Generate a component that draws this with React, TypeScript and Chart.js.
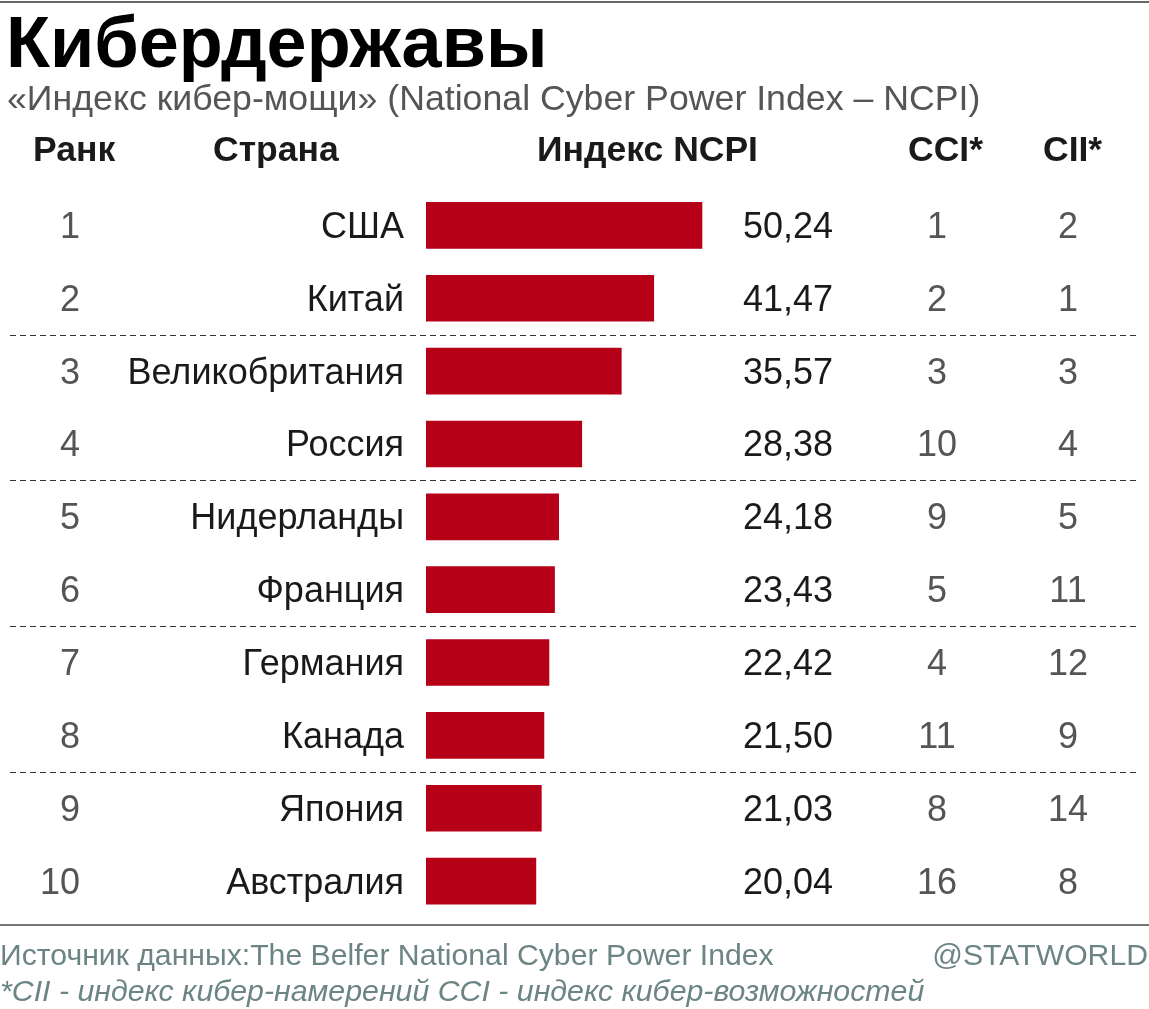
import React, { useEffect, useRef } from "react";
import { Chart, registerables } from "chart.js";

Chart.register(...registerables);

const ranks = ["1", "2", "3", "4", "5", "6", "7", "8", "9", "10"];
const countries = ["США", "Китай", "Великобритания", "Россия", "Нидерланды", "Франция", "Германия", "Канада", "Япония", "Австралия"];
const ncpi = [50.24, 41.47, 35.57, 28.38, 24.18, 23.43, 22.42, 21.5, 21.03, 20.04];
const ncpiLabels = ["50,24", "41,47", "35,57", "28,38", "24,18", "23,43", "22,42", "21,50", "21,03", "20,04"];
const cci = ["1", "2", "3", "10", "9", "5", "4", "11", "8", "16"];
const cii = ["2", "1", "3", "4", "5", "11", "12", "9", "14", "8"];
const headers = ["Ранк", "Страна", "Индекс NCPI", "CCI*", "CII*"];
const title = "Кибердержавы";
const subtitle = "«Индекс кибер-мощи» (National Cyber Power Index – NCPI)";
const source = "Источник данных:The Belfer National Cyber Power Index";
const brand = "@STATWORLD";
const note = "*CII - индекс кибер-намерений CCI - индекс кибер-возможностей";

const W = 1149;
const H = 1009;
const FONT = '"Liberation Sans", Arial, Helvetica, sans-serif';

const overlay = {
  id: "overlay",
  afterDraw(chart: any) {
    const ctx = chart.ctx as CanvasRenderingContext2D;
    const y = chart.scales.y;
    ctx.save();
    // top line
    ctx.fillStyle = "#666";
    ctx.fillRect(0, 1, W, 2);
    // title
    ctx.textBaseline = "alphabetic";
    ctx.textAlign = "left";
    ctx.fillStyle = "#000";
    ctx.font = `bold 72px ${FONT}`;
    ctx.fillText(title, 6, 67);
    ctx.fillStyle = "#555";
    ctx.font = `35.7px ${FONT}`;
    ctx.fillText(subtitle, 7, 110);
    // headers
    ctx.fillStyle = "#1a1a1a";
    ctx.font = `bold 35.5px ${FONT}`;
    ctx.fillText(headers[0], 33, 161);
    ctx.fillText(headers[1], 213, 161);
    ctx.fillText(headers[2], 537, 161);
    ctx.fillText(headers[3], 908, 161);
    ctx.fillText(headers[4], 1043, 161);
    // rows
    ctx.font = `36px ${FONT}`;
    for (let i = 0; i < countries.length; i++) {
      const cy = y.getPixelForValue(i) + 12.5;
      ctx.fillStyle = "#555";
      ctx.textAlign = "right";
      ctx.fillText(ranks[i], 80, cy);
      ctx.fillStyle = "#1a1a1a";
      ctx.fillText(countries[i], 404, cy);
      ctx.textAlign = "left";
      ctx.fillText(ncpiLabels[i], 743, cy);
      ctx.fillStyle = "#555";
      ctx.textAlign = "center";
      ctx.fillText(cci[i], 937, cy);
      ctx.fillText(cii[i], 1068, cy);
    }
    // dashed separators
    ctx.strokeStyle = "#333";
    ctx.lineWidth = 1;
    ctx.setLineDash([6, 4]);
    for (let i = 1; i < countries.length - 1; i += 2) {
      const sy = Math.round((y.getPixelForValue(i) + y.getPixelForValue(i + 1)) / 2) + 0.5;
      ctx.beginPath();
      ctx.moveTo(10, sy);
      ctx.lineTo(1136, sy);
      ctx.stroke();
    }
    ctx.setLineDash([]);
    // bottom line
    ctx.fillStyle = "#777";
    ctx.fillRect(0, 924, W, 2);
    // footer
    ctx.fillStyle = "#6c8484";
    ctx.textAlign = "left";
    ctx.font = `30.2px ${FONT}`;
    ctx.fillText(source, 0, 965);
    ctx.textAlign = "right";
    ctx.fillText(brand, 1148, 965);
    ctx.textAlign = "left";
    ctx.font = `italic 30.3px ${FONT}`;
    ctx.fillText(note, 0, 1001);
    ctx.restore();
  },
};

export default function App() {
  const ref = useRef<HTMLCanvasElement>(null);
  useEffect(() => {
    document.body.style.margin = "0";
    const canvas = ref.current!;
    const chart = new Chart(canvas, {
      type: "bar",
      data: {
        labels: countries,
        datasets: [
          {
            data: ncpi,
            backgroundColor: "#b50018",
            borderWidth: 0,
            categoryPercentage: 1,
            barPercentage: 0.64,
          },
        ],
      },
      options: {
        indexAxis: "y",
        responsive: false,
        animation: false,
        devicePixelRatio: 1,
        layout: { padding: { left: 426, right: 393, top: 189, bottom: 1009 - 917.5 } },
        plugins: { legend: { display: false }, tooltip: { enabled: false } },
        scales: {
          x: { display: false, min: 0, max: 60 },
          y: { display: false, offset: true },
        },
      },
      plugins: [overlay],
    });
    return () => chart.destroy();
  }, []);
  return (
    <div style={{ position: "absolute", left: 0, top: 0, width: W, height: H, background: "#fff" }}>
      <canvas ref={ref} width={W} height={H} style={{ width: W, height: H, display: "block" }} />
    </div>
  );
}
